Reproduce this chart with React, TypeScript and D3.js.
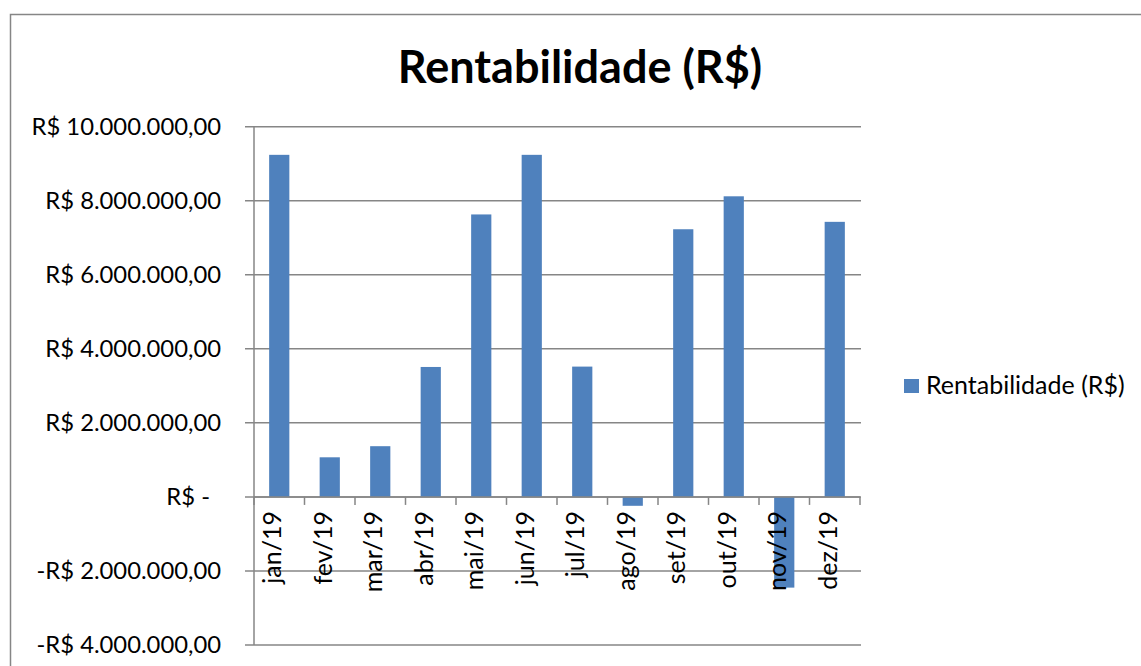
import React, { useEffect, useRef } from 'react';
import * as d3 from 'd3';

// Data
const months = ['jan/19', 'fev/19', 'mar/19', 'abr/19', 'mai/19', 'jun/19', 'jul/19', 'ago/19', 'set/19', 'out/19', 'nov/19', 'dez/19'];
const rentabilidade = [9240000, 1070000, 1370000, 3510000, 7630000, 9240000, 3520000, -240000, 7230000, 8120000, -2450000, 7430000];
const yTicks = [10000000, 8000000, 6000000, 4000000, 2000000, 0, -2000000, -4000000];
const yTickLabels = ['R$ 10.000.000,00', 'R$ 8.000.000,00', 'R$ 6.000.000,00', 'R$ 4.000.000,00', 'R$ 2.000.000,00', 'R$ -', '-R$ 2.000.000,00', '-R$ 4.000.000,00'];
const seriesName = 'Rentabilidade (R$)';

const FONT = 'Lato, Carlito, Calibri, "Open Sans", sans-serif';
const BAR = '#4F81BD';
const GRID = '#868686';

export default function App() {
    const svgRef = useRef<SVGSVGElement>(null);

    useEffect(() => {
        const svg = d3.select(svgRef.current);
        svg.selectAll('*').remove();

        const W = 1141, H = 666;
        const plot = { left: 254, right: 860, top: 126.7, bottom: 645 };

        svg.attr('width', W).attr('height', H);

        // chart frame
        svg.append('rect')
            .attr('x', 10.5).attr('y', 14.5)
            .attr('width', 1200).attr('height', 700)
            .attr('fill', '#fff')
            .attr('stroke', GRID)
            .attr('stroke-width', 1.5);

        // scales
        const x = d3.scaleBand<string>()
            .domain(months)
            .range([plot.left, plot.right])
            .paddingInner(0.6)
            .paddingOuter(0.3);

        const y = d3.scaleLinear()
            .domain([-4000000, 10000000])
            .range([plot.bottom, plot.top]);

        // gridlines (with the small tick stubs on the left)
        svg.append('g')
            .selectAll('line')
            .data(yTicks)
            .join('line')
            .attr('x1', plot.left - 9)
            .attr('x2', plot.right + 1)
            .attr('y1', d => y(d))
            .attr('y2', d => y(d))
            .attr('stroke', GRID)
            .attr('stroke-width', 1.5);

        // y labels
        svg.append('g')
            .selectAll('text')
            .data(yTicks)
            .join('text')
            .attr('x', 221)
            .attr('dx', d => (d === 0 ? -11 : 0))
            .attr('y', d => y(d) + 8)
            .attr('text-anchor', 'end')
            .attr('font-family', FONT)
            .attr('font-size', 23.8)
            .attr('fill', '#000')
            .text((d, i) => yTickLabels[i]);

        // vertical axis line
        svg.append('line')
            .attr('x1', plot.left).attr('x2', plot.left)
            .attr('y1', plot.top).attr('y2', plot.bottom)
            .attr('stroke', GRID)
            .attr('stroke-width', 1.5);

        // bars
        svg.append('g')
            .selectAll('rect')
            .data(rentabilidade)
            .join('rect')
            .attr('x', (d, i) => x(months[i])!)
            .attr('width', x.bandwidth())
            .attr('y', d => y(Math.max(0, d)))
            .attr('height', d => Math.abs(y(d) - y(0)))
            .attr('fill', BAR);

        // horizontal axis at zero with category boundary ticks
        const zeroY = y(0);
        svg.append('line')
            .attr('x1', plot.left).attr('x2', plot.right)
            .attr('y1', zeroY).attr('y2', zeroY)
            .attr('stroke', GRID)
            .attr('stroke-width', 1.5);

        const step = x.step();
        const bounds = d3.range(months.length + 1).map(i => plot.left + i * step);
        svg.append('g')
            .selectAll('line')
            .data(bounds)
            .join('line')
            .attr('x1', d => d).attr('x2', d => d)
            .attr('y1', zeroY).attr('y2', zeroY + 8)
            .attr('stroke', GRID)
            .attr('stroke-width', 1.5);

        // month labels (rotated)
        svg.append('g')
            .selectAll('text')
            .data(months)
            .join('text')
            .attr('transform', d => `translate(${x(d)! + x.bandwidth() / 2 + 2},511) rotate(-90)`)
            .attr('text-anchor', 'end')
            .attr('font-family', FONT)
            .attr('font-size', 25)
            .attr('fill', '#000')
            .text(d => d);

        // title
        svg.append('text')
            .attr('x', 580)
            .attr('y', 83)
            .attr('text-anchor', 'middle')
            .attr('font-family', FONT)
            .attr('font-weight', 'bold')
            .attr('font-size', 45)
            .attr('fill', '#000')
            .text(seriesName);

        // legend
        svg.append('rect')
            .attr('x', 904).attr('y', 379)
            .attr('width', 15).attr('height', 14)
            .attr('fill', BAR);
        svg.append('text')
            .attr('x', 926)
            .attr('y', 394)
            .attr('font-family', FONT)
            .attr('font-size', 25)
            .attr('fill', '#000')
            .text(seriesName);
    }, []);

    return (
        <div style={{ position: 'absolute', left: 0, top: 0 }}>
            <svg ref={svgRef}></svg>
        </div>
    );
}
